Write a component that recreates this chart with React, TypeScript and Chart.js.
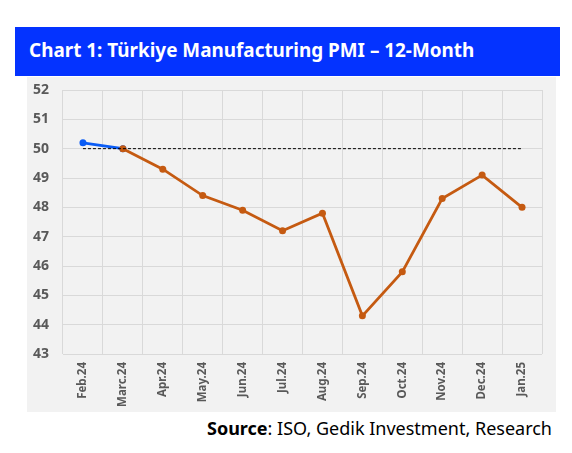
import React, { useEffect, useRef } from "react";
import { Chart, registerables } from "chart.js";

Chart.register(...registerables);

const categories = ["Feb.24", "Marc.24", "Apr.24", "May.24", "Jun.24", "Jul.24", "Aug.24", "Sep.24", "Oct.24", "Nov.24", "Dec.24", "Jan.25"];
const bluePart = [50.2, 50.0, null, null, null, null, null, null, null, null, null, null];
const orangePart = [null, 50.0, 49.3, 48.4, 47.9, 47.2, 47.8, 44.3, 45.8, 48.3, 49.1, 48.0];
const threshold = [50, 50, 50, 50, 50, 50, 50, 50, 50, 50, 50, 50];
const yMin = 43;
const yMax = 52;

export default function App() {
  const ref = useRef<HTMLCanvasElement>(null);
  useEffect(() => {
    if (!ref.current) return;
    const chart = new Chart(ref.current, {
      type: "line",
      data: {
        labels: categories,
        datasets: [
          {
            data: threshold,
            borderColor: "#000000",
            borderWidth: 1,
            borderDash: [3, 2],
            pointRadius: 0,
            fill: false,
          },
          {
            data: orangePart,
            borderColor: "#c55a11",
            backgroundColor: "#c55a11",
            borderWidth: 2.75,
            pointRadius: 3.5,
            pointBorderWidth: 0,
            spanGaps: false,
          },
          {
            data: bluePart,
            borderColor: "#0a5cf5",
            backgroundColor: "#0a5cf5",
            borderWidth: 2.75,
            pointRadius: 3.5,
            pointBorderWidth: 0,
          },
        ],
      },
      options: {
        animation: false,
        responsive: false,
        maintainAspectRatio: false,
        layout: { padding: { top: 13, right: 14, left: 0, bottom: 0 } },
        plugins: { legend: { display: false }, tooltip: { enabled: false } },
        scales: {
          x: {
            offset: true,
            grid: { offset: true, color: "#d9d9d9", lineWidth: 1, drawTicks: false },
            border: { display: false },
            ticks: {
              minRotation: 90,
              maxRotation: 90,
              padding: 8,
              color: "#595959",
              font: { family: "'Noto Sans', sans-serif", size: 11.5, weight: "bold" },
            },
            afterFit: (s: any) => { s.height = 58; },
          },
          y: {
            min: yMin,
            max: yMax,
            grid: { color: "#d9d9d9", lineWidth: 1, drawTicks: true, tickLength: 14, tickColor: "rgba(0,0,0,0)" },
            border: { display: false },
            ticks: {
              stepSize: 1,
              padding: 0,
              color: "#595959",
              font: { family: "'Noto Sans', sans-serif", size: 14, weight: "bold" },
            },
            afterFit: (s: any) => { s.width = 36; },
          },
        },
      },
    });
    return () => chart.destroy();
  }, []);

  return (
    <div style={{ position: "relative", width: 572, height: 453, background: "#ffffff", margin: "-8px", overflow: "hidden" }}>
      <div style={{ position: "absolute", left: 0, top: 0, width: 572, height: 8, background: "#e6e6e8" }} />
      <div
        style={{
          position: "absolute",
          left: 15,
          top: 27,
          width: 545,
          height: 49,
          background: "#0433ff",
          color: "#ffffff",
          fontFamily: "'Noto Sans', sans-serif",
          fontWeight: "bold",
          fontSize: 18.9,
          lineHeight: "47px",
          paddingLeft: 14,
          boxSizing: "border-box",
          whiteSpace: "nowrap",
        }}
      >
        Chart 1: Türkiye Manufacturing PMI – 12-Month
      </div>
      <div style={{ position: "absolute", left: 27, top: 77, width: 529, height: 335, background: "#f2f2f2" }}>
        <canvas ref={ref} width={529} height={335} style={{ display: "block", width: 529, height: 335 }} />
      </div>
      <div
        style={{
          position: "absolute",
          right: 20,
          top: 416,
          fontFamily: "'Noto Sans', sans-serif",
          fontSize: 18,
          color: "#000",
          whiteSpace: "nowrap",
        }}
      >
        <b>Source</b>: ISO, Gedik Investment, Research
      </div>
    </div>
  );
}
